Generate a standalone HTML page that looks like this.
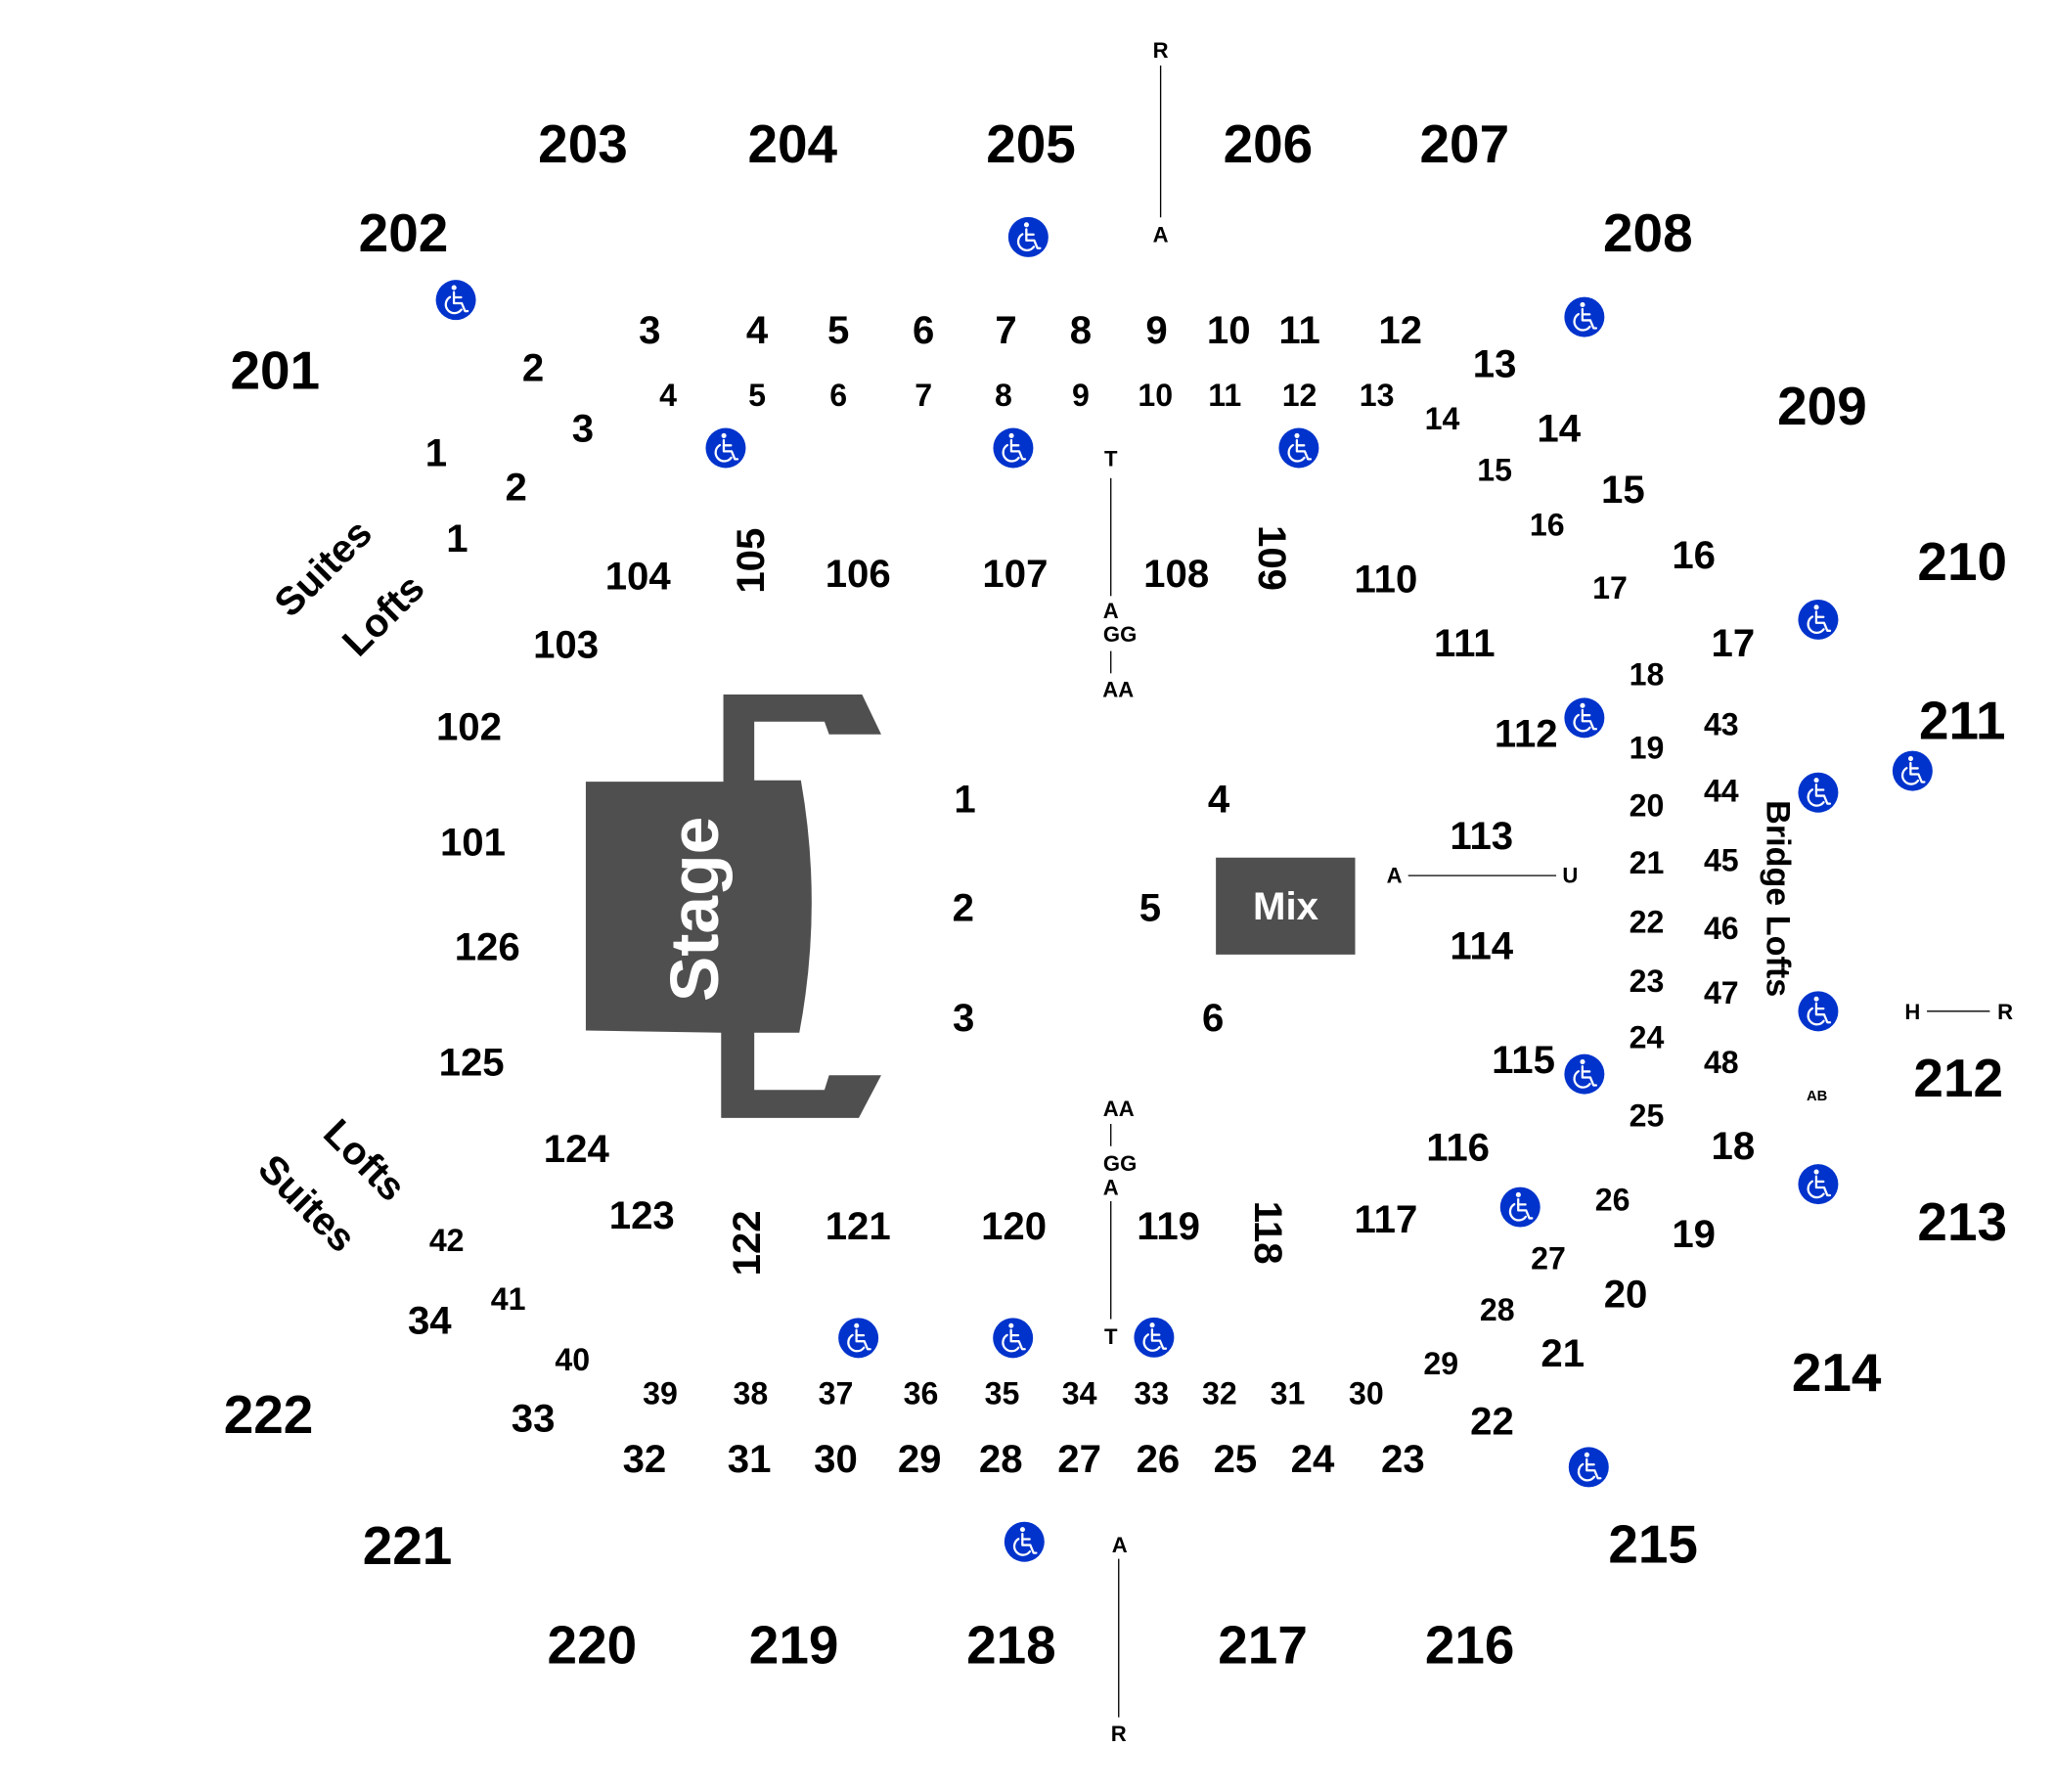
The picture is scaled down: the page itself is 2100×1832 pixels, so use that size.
<!DOCTYPE html>
<html>
<head>
<meta charset="utf-8">
<style>
html,body{margin:0;padding:0;background:#fff;}
svg{display:block;}
text{font-family:"Liberation Sans",Arial,sans-serif;font-weight:bold;text-anchor:middle;fill:#000;}
.a{font-size:41px;}
.b{font-size:30px;}
.c{font-size:30px;}
.d{font-size:24px;}
.e{font-size:16.5px;}
.f{font-size:11px;}
</style>
</head>
<body>
<svg width="2100" height="1832" viewBox="0 0 1568 1368" preserveAspectRatio="none" xmlns="http://www.w3.org/2000/svg">
<defs>
<g id="wc">
<circle r="15.3" fill="#0033cc"/>
<g fill="none" stroke="#fff" stroke-width="1.7" stroke-linecap="round" stroke-linejoin="round">
<path d="M-1.5,-6 V2.5 H4.5 L7,8.5 H9"/>
<path d="M-1.5,-2 H4"/>
<path d="M-4.5,-2.2 A6.6,6.6 0 1 0 4.2,7.4"/>
</g>
<circle cx="-1.4" cy="-9.4" r="1.9" fill="#fff"/>
</g>
</defs>

<!-- Stage -->
<path d="M447.2,596.7 L552.2,596.7 L552.2,530.2 L658.1,530.2 L672.7,560.6 L632.9,560.6 L629.4,550.9 L575.8,550.9 L575.8,595.7 L611.4,595.7 Q628.4,692 610.2,788.4 L575.8,788.4 L575.8,832 L629.4,832 L632.9,820.8 L672.7,820.8 L655.6,853.4 L550.5,853.4 L550.5,788.4 L447.2,786.7 Z" fill="#4f4f4f"/>
<text transform="translate(548,694) rotate(-90)" x="0" y="0" style="font-size:52px;fill:#fff;">Stage</text>

<!-- Mix -->
<rect x="928.2" y="654.7" width="106.3" height="74" fill="#4f4f4f"/>
<text x="981.5" y="702" class="c" style="fill:#fff;">Mix</text>

<!-- Lines -->
<g stroke="#000" stroke-width="1">
<line x1="886" y1="50" x2="886" y2="166"/>
<line x1="848" y1="365" x2="848" y2="455"/>
<line x1="848" y1="497" x2="848" y2="514"/>
<line x1="848" y1="858" x2="848" y2="875"/>
<line x1="848" y1="917" x2="848" y2="1007"/>
<line x1="854" y1="1190" x2="854" y2="1311"/>
<line x1="1075" y1="668.4" x2="1188" y2="668.4"/>
<line x1="1471" y1="772" x2="1519" y2="772"/>
</g>

<!-- Small letters -->
<text x="886" y="44" class="e">R</text>
<text x="886" y="185" class="e">A</text>
<text x="848" y="356" class="e">T</text>
<text x="848" y="472" class="e">A</text>
<text x="855" y="490" class="e">GG</text>
<text x="853.6" y="532" class="e">AA</text>
<text x="854" y="852" class="e">AA</text>
<text x="855" y="894" class="e">GG</text>
<text x="848" y="912" class="e">A</text>
<text x="848" y="1026" class="e">T</text>
<text x="854.7" y="1185" class="e">A</text>
<text x="854" y="1329" class="e">R</text>
<text x="1064.5" y="674" class="e">A</text>
<text x="1198.7" y="674" class="e">U</text>
<text x="1460" y="778" class="e">H</text>
<text x="1530.7" y="778" class="e">R</text>
<text x="1387" y="840" class="f">AB</text>

<!-- 200 level -->
<text x="210" y="297" class="a">201</text>
<text x="308" y="192" class="a">202</text>
<text x="445" y="124" class="a">203</text>
<text x="605" y="124" class="a">204</text>
<text x="787" y="124" class="a">205</text>
<text x="968" y="124" class="a">206</text>
<text x="1118" y="124" class="a">207</text>
<text x="1258" y="192" class="a">208</text>
<text x="1391" y="324" class="a">209</text>
<text x="1498" y="443" class="a">210</text>
<text x="1498" y="564" class="a">211</text>
<text x="1495" y="837" class="a">212</text>
<text x="1498" y="947" class="a">213</text>
<text x="1402" y="1062" class="a">214</text>
<text x="1262" y="1193" class="a">215</text>
<text x="1122" y="1270" class="a">216</text>
<text x="964" y="1270" class="a">217</text>
<text x="772" y="1270" class="a">218</text>
<text x="606" y="1270" class="a">219</text>
<text x="452" y="1270" class="a">220</text>
<text x="311" y="1194" class="a">221</text>
<text x="205" y="1094" class="a">222</text>

<!-- 100 level -->
<text x="361" y="653" class="b">101</text>
<text x="358" y="565" class="b">102</text>
<text x="432" y="502" class="b">103</text>
<text x="487" y="450" class="b">104</text>
<text transform="translate(572,428) rotate(-90)" x="0" y="11" class="b">105</text>
<text x="655" y="448" class="b">106</text>
<text x="775" y="448" class="b">107</text>
<text x="898" y="448" class="b">108</text>
<text transform="translate(972,426) rotate(90)" x="0" y="11" class="b">109</text>
<text x="1058" y="452" class="b">110</text>
<text x="1118" y="501" class="b">111</text>
<text x="1165" y="570" class="b">112</text>
<text x="1131" y="648" class="b">113</text>
<text x="1131" y="732" class="b">114</text>
<text x="1163" y="819" class="b">115</text>
<text x="1113" y="886" class="b">116</text>
<text x="1058" y="941" class="b">117</text>
<text transform="translate(969,941) rotate(90)" x="0" y="11" class="b">118</text>
<text x="892" y="946" class="b">119</text>
<text x="774" y="946" class="b">120</text>
<text x="655" y="946" class="b">121</text>
<text transform="translate(569,949) rotate(-90)" x="0" y="11" class="b">122</text>
<text x="490" y="938" class="b">123</text>
<text x="440" y="887" class="b">124</text>
<text x="360" y="821" class="b">125</text>
<text x="372" y="733" class="b">126</text>

<!-- Floor sections -->
<text x="736.6" y="620" class="c">1</text>
<text x="735.3" y="703" class="c">2</text>
<text x="735.6" y="787" class="c">3</text>
<text x="930.4" y="620" class="c">4</text>
<text x="878" y="703" class="c">5</text>
<text x="926" y="787" class="c">6</text>

<!-- Suites / Lofts labels -->
<text transform="translate(246,433) rotate(-45)" x="0" y="11" class="c">Suites</text>
<text transform="translate(292,469) rotate(-45)" x="0" y="11" class="c">Lofts</text>
<text transform="translate(279,885) rotate(45)" x="0" y="11" class="c">Lofts</text>
<text transform="translate(235,918) rotate(45)" x="0" y="11" class="c">Suites</text>
<text transform="translate(1358,686) rotate(90)" x="0" y="9" style="font-size:25.5px;">Bridge Lofts</text>

<!-- Upper rows big -->
<text x="496" y="262" class="c">3</text>
<text x="578" y="262" class="c">4</text>
<text x="640" y="262" class="c">5</text>
<text x="705" y="262" class="c">6</text>
<text x="768" y="262" class="c">7</text>
<text x="825" y="262" class="c">8</text>
<text x="883" y="262" class="c">9</text>
<text x="938" y="262" class="c">10</text>
<text x="992" y="262" class="c">11</text>
<text x="1069" y="262" class="c">12</text>
<text x="407" y="291" class="c">2</text>
<text x="445" y="337" class="c">3</text>
<text x="333" y="356" class="c">1</text>
<text x="394" y="382" class="c">2</text>
<text x="349" y="421" class="c">1</text>
<text x="1141" y="288" class="c">13</text>
<text x="1190" y="337" class="c">14</text>
<text x="1239" y="384" class="c">15</text>
<text x="1293" y="434" class="c">16</text>
<text x="1323" y="501" class="c">17</text>

<!-- Upper rows small -->
<text x="510" y="310" class="d">4</text>
<text x="578" y="310" class="d">5</text>
<text x="640" y="310" class="d">6</text>
<text x="705" y="310" class="d">7</text>
<text x="766" y="310" class="d">8</text>
<text x="825" y="310" class="d">9</text>
<text x="882" y="310" class="d">10</text>
<text x="935" y="310" class="d">11</text>
<text x="992" y="310" class="d">12</text>
<text x="1051" y="310" class="d">13</text>
<text x="1101" y="328" class="d">14</text>
<text x="1141" y="367" class="d">15</text>
<text x="1181" y="409" class="d">16</text>
<text x="1229" y="457" class="d">17</text>
<text x="1257" y="523" class="d">18</text>

<!-- Right column -->
<text x="1257" y="579" class="d">19</text>
<text x="1257" y="623" class="d">20</text>
<text x="1257" y="667" class="d">21</text>
<text x="1257" y="712" class="d">22</text>
<text x="1257" y="757" class="d">23</text>
<text x="1257" y="800" class="d">24</text>
<text x="1257" y="860" class="d">25</text>
<text x="1231" y="924" class="d">26</text>
<text x="1182" y="969" class="d">27</text>
<text x="1143" y="1008" class="d">28</text>
<text x="1100" y="1049" class="d">29</text>
<text x="1314" y="561" class="d">43</text>
<text x="1314" y="612" class="d">44</text>
<text x="1314" y="665" class="d">45</text>
<text x="1314" y="717" class="d">46</text>
<text x="1314" y="766" class="d">47</text>
<text x="1314" y="819" class="d">48</text>

<!-- Right lower big -->
<text x="1323" y="885" class="c">18</text>
<text x="1293" y="952" class="c">19</text>
<text x="1241" y="998" class="c">20</text>
<text x="1193" y="1043" class="c">21</text>
<text x="1139" y="1095" class="c">22</text>
<text x="1071" y="1124" class="c">23</text>

<!-- Bottom rows -->
<text x="504" y="1072" class="d">39</text>
<text x="573" y="1072" class="d">38</text>
<text x="638" y="1072" class="d">37</text>
<text x="703" y="1072" class="d">36</text>
<text x="765" y="1072" class="d">35</text>
<text x="824" y="1072" class="d">34</text>
<text x="879" y="1072" class="d">33</text>
<text x="931" y="1072" class="d">32</text>
<text x="983" y="1072" class="d">31</text>
<text x="1043" y="1072" class="d">30</text>
<text x="492" y="1124" class="c">32</text>
<text x="572" y="1124" class="c">31</text>
<text x="638" y="1124" class="c">30</text>
<text x="702" y="1124" class="c">29</text>
<text x="764" y="1124" class="c">28</text>
<text x="824" y="1124" class="c">27</text>
<text x="884" y="1124" class="c">26</text>
<text x="943" y="1124" class="c">25</text>
<text x="1002" y="1124" class="c">24</text>

<!-- Left lower -->
<text x="341" y="955" class="d">42</text>
<text x="388" y="1000" class="d">41</text>
<text x="437" y="1046" class="d">40</text>
<text x="328" y="1018" class="c">34</text>
<text x="407" y="1093" class="c">33</text>

<!-- Wheelchair icons -->
<use href="#wc" x="785" y="181"/>
<use href="#wc" x="348" y="229"/>
<use href="#wc" x="1209.5" y="242"/>
<use href="#wc" x="554" y="342"/>
<use href="#wc" x="773.5" y="342"/>
<use href="#wc" x="991.5" y="342"/>
<use href="#wc" x="1388" y="473"/>
<use href="#wc" x="1209.5" y="548"/>
<use href="#wc" x="1460" y="588.5"/>
<use href="#wc" x="1388" y="605"/>
<use href="#wc" x="1388" y="772"/>
<use href="#wc" x="1209.5" y="820"/>
<use href="#wc" x="1388" y="904"/>
<use href="#wc" x="1160.5" y="921.5"/>
<use href="#wc" x="655.3" y="1021.4"/>
<use href="#wc" x="773.3" y="1021.4"/>
<use href="#wc" x="881" y="1021"/>
<use href="#wc" x="1212.8" y="1120"/>
<use href="#wc" x="782" y="1177"/>
</svg>
</body>
</html>
